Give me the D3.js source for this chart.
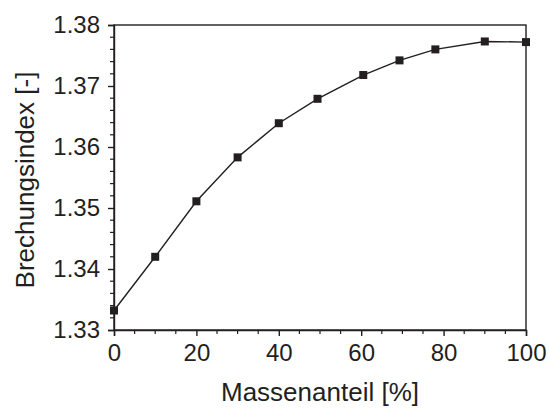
<!DOCTYPE html>
<html>
<head>
<meta charset="utf-8">
<script src="https://cdn.jsdelivr.net/npm/d3@7"></script>
<style>
  body { margin: 0; background: #fff; }
  text { font-family: "Liberation Sans", Arial, sans-serif; fill: #231f20; }
</style>
</head>
<body>
<div class="chart"></div>
<script>
// data
var massFraction = [0, 10, 20, 30, 40, 49.4, 60.5, 69.3, 78, 90, 100];
var refractiveIndex = [1.3332, 1.3420, 1.3511, 1.3583, 1.3639, 1.3679, 1.3718, 1.3742, 1.3760, 1.3773, 1.3772];
var xTicks = [0, 20, 40, 60, 80, 100];
var yTicks = [1.33, 1.34, 1.35, 1.36, 1.37, 1.38];

var width = 549, height = 408;
var margin = {top: 25, right: 23, bottom: 78, left: 114};
var ink = '#231f20';

var svg = d3.select('.chart').append('svg')
  .attr('width', width)
  .attr('height', height);

var x = d3.scaleLinear().domain([0, 100]).range([margin.left, width - margin.right]);
var y = d3.scaleLinear().domain([1.33, 1.38]).range([height - margin.bottom, margin.top]);

// frame
svg.append('rect')
  .attr('x', x(0)).attr('y', y(1.38))
  .attr('width', x(100) - x(0)).attr('height', y(1.33) - y(1.38))
  .attr('fill', 'none').attr('stroke', ink).attr('stroke-width', 1.4);

// minor ticks
var xMinor = d3.range(0, 101, 5).filter(function(d) { return d % 20 !== 0; });
var yMinor = d3.range(0, 26).map(function(i) { return 1.33 + i * 0.002; })
  .filter(function(d, i) { return i % 5 !== 0; });

var xAxis = svg.append('g')
  .attr('transform', 'translate(0,' + y(1.33) + ')')
  .call(d3.axisBottom(x).tickValues(xTicks).tickSize(6).tickPadding(8).tickFormat(d3.format('d')));
xAxis.append('g').selectAll('line').data(xMinor).enter().append('line')
  .attr('x1', function(d) { return x(d); }).attr('x2', function(d) { return x(d); })
  .attr('y1', 0).attr('y2', 4).attr('stroke', ink).attr('stroke-width', 1.2);

var yAxis = svg.append('g')
  .attr('transform', 'translate(' + x(0) + ',0)')
  .call(d3.axisLeft(y).tickValues(yTicks).tickSize(6).tickPadding(8).tickFormat(d3.format('.2f')));
yAxis.append('g').selectAll('line').data(yMinor).enter().append('line')
  .attr('y1', function(d) { return y(d); }).attr('y2', function(d) { return y(d); })
  .attr('x1', 0).attr('x2', -4).attr('stroke', ink).attr('stroke-width', 1.2);

[xAxis, yAxis].forEach(function(g) {
  g.select('.domain').attr('stroke', ink).attr('stroke-width', 1.4);
  g.selectAll('.tick line').attr('stroke', ink).attr('stroke-width', 1.4);
  g.selectAll('.tick text').attr('font-size', 24).attr('fill', ink)
    .style('font-family', '"Liberation Sans", Arial, sans-serif');
});

// axis titles
svg.append('text')
  .attr('x', (x(0) + x(100)) / 2).attr('y', 401)
  .attr('text-anchor', 'middle').attr('font-size', 26)
  .text('Massenanteil [%]');

svg.append('text')
  .attr('transform', 'translate(34,180) rotate(-90)')
  .attr('text-anchor', 'middle').attr('font-size', 26)
  .text('Brechungsindex [-]');

// line and markers
var points = massFraction.map(function(d, i) { return {m: d, n: refractiveIndex[i]}; });

svg.append('path')
  .datum(points)
  .attr('fill', 'none').attr('stroke', ink).attr('stroke-width', 1.4)
  .attr('d', d3.line().x(function(d) { return x(d.m); }).y(function(d) { return y(d.n); }));

svg.selectAll('.marker').data(points).enter().append('rect')
  .attr('class', 'marker')
  .attr('x', function(d) { return x(d.m) - 4; })
  .attr('y', function(d) { return y(d.n) - 4; })
  .attr('width', 8).attr('height', 8)
  .attr('fill', ink);
</script>
</body>
</html>
